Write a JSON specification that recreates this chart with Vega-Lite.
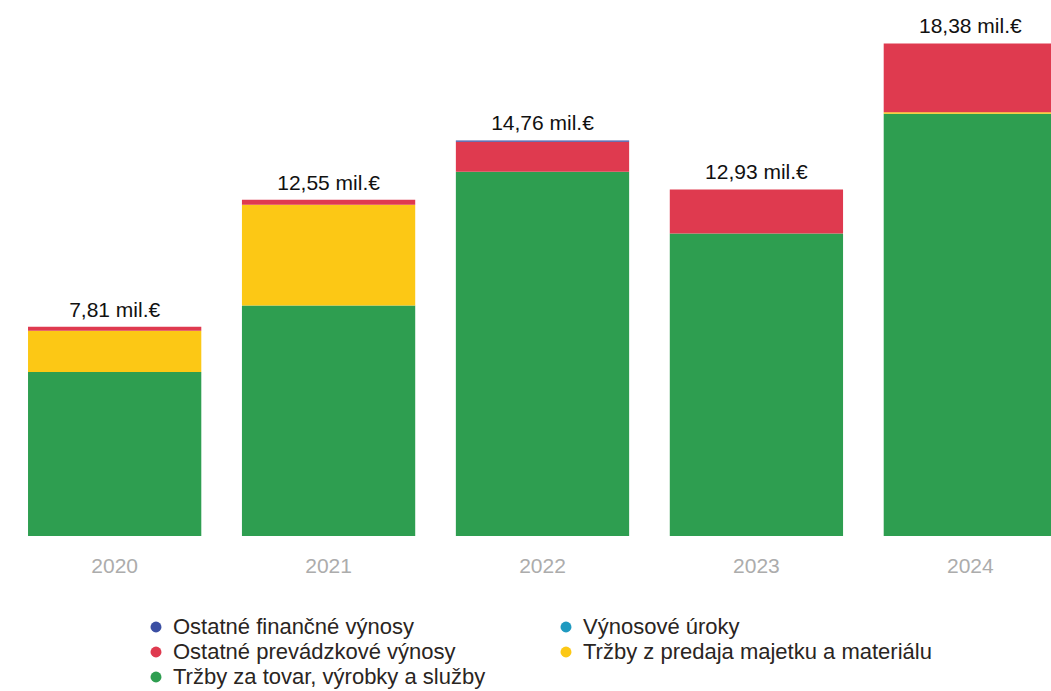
{
  "$schema": "https://vega.github.io/schema/vega-lite/v6.json",
  "width": 1051,
  "height": 536,
  "autosize": {"type": "none"},
  "padding": {"left": 0, "top": 0, "right": 0, "bottom": 155},
  "background": "white",
  "config": {
    "view": {"stroke": null},
    "font": "Liberation Sans"
  },
  "layer": [
    {
      "data": {
        "values": [
          {"year": "2020", "category": "Tržby za tovar, výrobky a služby", "value": 6.12},
          {"year": "2020", "category": "Tržby z predaja majetku a materiálu", "value": 1.54},
          {"year": "2020", "category": "Ostatné prevádzkové výnosy", "value": 0.15},
          {"year": "2021", "category": "Tržby za tovar, výrobky a služby", "value": 8.6},
          {"year": "2021", "category": "Tržby z predaja majetku a materiálu", "value": 3.76},
          {"year": "2021", "category": "Ostatné prevádzkové výnosy", "value": 0.19},
          {"year": "2022", "category": "Tržby za tovar, výrobky a služby", "value": 13.59},
          {"year": "2022", "category": "Ostatné prevádzkové výnosy", "value": 1.12},
          {"year": "2022", "category": "Ostatné finančné výnosy", "value": 0.05},
          {"year": "2023", "category": "Tržby za tovar, výrobky a služby", "value": 11.29},
          {"year": "2023", "category": "Ostatné prevádzkové výnosy", "value": 1.64},
          {"year": "2024", "category": "Tržby za tovar, výrobky a služby", "value": 15.76},
          {"year": "2024", "category": "Tržby z predaja majetku a materiálu", "value": 0.05},
          {"year": "2024", "category": "Ostatné prevádzkové výnosy", "value": 2.57}
        ]
      },
      "mark": {"type": "bar", "clip": true},
      "encoding": {
        "x": {
          "field": "year",
          "type": "nominal",
          "scale": {"range": [0, 1085], "paddingInner": 0.19, "paddingOuter": 0.131},
          "axis": {
            "title": null,
            "labelAngle": 0,
            "domain": false,
            "ticks": false,
            "labelPadding": 19,
            "labelFontSize": 21,
            "labelColor": "#acacac",
            "labelFont": "Liberation Sans"
          }
        },
        "y": {
          "field": "value",
          "type": "quantitative",
          "stack": "zero",
          "scale": {"domain": [0, 20], "nice": false},
          "axis": null
        },
        "color": {
          "field": "category",
          "type": "nominal",
          "scale": {
            "domain": [
              "Ostatné finančné výnosy",
              "Výnosové úroky",
              "Ostatné prevádzkové výnosy",
              "Tržby z predaja majetku a materiálu",
              "Tržby za tovar, výrobky a služby"
            ],
            "range": ["#3b4fa3", "#1f9ac0", "#df3a4f", "#fcc815", "#2e9e50"]
          },
          "legend": {
            "title": null,
            "orient": "none",
            "legendX": 145,
            "legendY": 616,
            "columns": 2,
            "direction": "horizontal",
            "symbolType": "circle",
            "symbolSize": 120,
            "symbolStrokeWidth": 0,
            "labelFontSize": 22,
            "labelColor": "#2a2522",
            "labelFont": "Liberation Sans",
            "labelOffset": 6,
            "rowPadding": 3,
            "columnPadding": 69,
            "labelLimit": 500
          }
        },
        "order": {"field": "category", "sort": "descending"}
      }
    },
    {
      "data": {
        "values": [
          {"year": "2020", "total": 7.81, "label": "7,81 mil.€"},
          {"year": "2021", "total": 12.55, "label": "12,55 mil.€"},
          {"year": "2022", "total": 14.76, "label": "14,76 mil.€"},
          {"year": "2023", "total": 12.93, "label": "12,93 mil.€"},
          {"year": "2024", "total": 18.38, "label": "18,38 mil.€"}
        ]
      },
      "mark": {
        "type": "text",
        "baseline": "bottom",
        "dy": -6,
        "fontSize": 21,
        "color": "#111111",
        "font": "Liberation Sans"
      },
      "encoding": {
        "x": {"field": "year", "type": "nominal"},
        "y": {"field": "total", "type": "quantitative"},
        "text": {"field": "label"}
      }
    }
  ]
}
